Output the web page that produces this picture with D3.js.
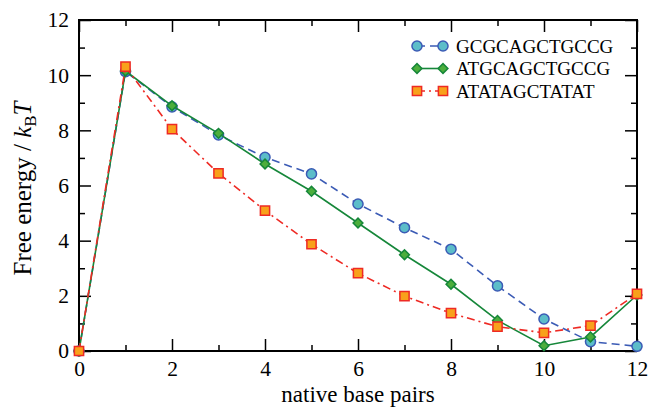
<!DOCTYPE html>
<html>
<head>
<meta charset="utf-8">
<script src="https://cdn.jsdelivr.net/npm/d3@7"></script>
</head>
<body style="margin:0;background:#fff">
<script>
// data
const basePairs = [0, 1, 2, 3, 4, 5, 6, 7, 8, 9, 10, 11, 12];
const gcgc = [0, 10.13, 8.85, 7.83, 7.02, 6.42, 5.33, 4.47, 3.69, 2.36, 1.16, 0.34, 0.17];
const atgc = [0, 10.15, 8.89, 7.89, 6.78, 5.79, 4.64, 3.49, 2.42, 1.11, 0.19, 0.51, 2.03];
const atat = [0, 10.31, 8.04, 6.44, 5.09, 3.87, 2.82, 1.99, 1.37, 0.88, 0.66, 0.92, 2.07];
const seriesNames = ['GCGCAGCTGCCG', 'ATGCAGCTGCCG', 'ATATAGCTATAT'];
const xMajor = [0, 2, 4, 6, 8, 10, 12];
const xMinor = [1, 3, 5, 7, 9, 11];
const yMajor = [0, 2, 4, 6, 8, 10, 12];
const yMinor = [1, 3, 5, 7, 9, 11];

const FONT = '"Liberation Serif", "Times New Roman", serif';
const W = 650, H = 407;
const margin = {top: 20, right: 13, bottom: 56, left: 79};
const w = W - margin.left - margin.right, h = H - margin.top - margin.bottom;

const svg = d3.select('body').append('svg').attr('width', W).attr('height', H);
const g = svg.append('g').attr('transform', `translate(${margin.left},${margin.top})`);

const x = d3.scaleLinear().domain([0, 12]).range([0, w]);
const y = d3.scaleLinear().domain([0, 12]).range([h, 0]);

// axes, ticks inward on all four sides
function styleAxis(sel) {
  sel.attr('font-family', FONT);
  sel.select('.domain').remove();
  sel.selectAll('.tick line').attr('stroke', '#000').attr('stroke-width', 1.5);
  sel.selectAll('.tick text').attr('fill', '#000')
    .style('font-family', FONT).style('font-size', '21.5px');
}
g.append('g').attr('transform', `translate(0,${h})`)
  .call(d3.axisBottom(x).tickValues(xMajor).tickSize(-12).tickPadding(10).tickFormat(d3.format('d'))).call(styleAxis);
g.append('g').attr('transform', `translate(0,${h})`)
  .call(d3.axisBottom(x).tickValues(xMinor).tickSize(-6).tickFormat('')).call(styleAxis);
g.append('g')
  .call(d3.axisTop(x).tickValues(xMajor).tickSize(-12).tickFormat('')).call(styleAxis);
g.append('g')
  .call(d3.axisTop(x).tickValues(xMinor).tickSize(-6).tickFormat('')).call(styleAxis);
g.append('g')
  .call(d3.axisLeft(y).tickValues(yMajor).tickSize(-12).tickPadding(10).tickFormat(d3.format('d'))).call(styleAxis);
g.append('g')
  .call(d3.axisLeft(y).tickValues(yMinor).tickSize(-6).tickFormat('')).call(styleAxis);
g.append('g').attr('transform', `translate(${w},0)`)
  .call(d3.axisRight(y).tickValues(yMajor).tickSize(-12).tickFormat('')).call(styleAxis);
g.append('g').attr('transform', `translate(${w},0)`)
  .call(d3.axisRight(y).tickValues(yMinor).tickSize(-6).tickFormat('')).call(styleAxis);

g.append('rect').attr('width', w).attr('height', h)
  .attr('fill', 'none').attr('stroke', '#000').attr('stroke-width', 2);

// series (diamond = square turned 45 degrees)
const series = [
  {name: seriesNames[0], values: gcgc, color: '#3b5bb5', dash: '8,5', shape: d3.symbolCircle, size: 80, rot: 0, fill: '#5cbdc9'},
  {name: seriesNames[1], values: atgc, color: '#16873a', dash: null, shape: d3.symbolSquare, size: 48, rot: 45, fill: '#4cae3c'},
  {name: seriesNames[2], values: atat, color: '#ee2a24', dash: '8,4,2,4', shape: d3.symbolSquare, size: 85, rot: 0, fill: '#f8a11b'}
];

const line = d3.line().x(d => x(d[0])).y(d => y(d[1]));

series.forEach(s => {
  const pts = basePairs.map((b, i) => [b, s.values[i]]);
  g.append('path').datum(pts).attr('d', line)
    .attr('fill', 'none').attr('stroke', s.color).attr('stroke-width', 1.6)
    .attr('stroke-dasharray', s.dash);
  g.selectAll(null).data(pts).enter().append('path')
    .attr('transform', d => `translate(${x(d[0])},${y(d[1])}) rotate(${s.rot})`)
    .attr('d', d3.symbol().type(s.shape).size(s.size))
    .attr('fill', s.fill).attr('stroke', s.color).attr('stroke-width', 1.5);
});

// legend
const legend = g.append('g').attr('transform', `translate(${417 - margin.left},${46 - margin.top})`);
series.forEach((s, i) => {
  const row = legend.append('g').attr('transform', `translate(0,${i * 22.5})`);
  row.append('line').attr('x1', 0).attr('x2', 26)
    .attr('stroke', s.color).attr('stroke-width', 1.6).attr('stroke-dasharray', s.dash);
  [0, 26].forEach(px => row.append('path')
    .attr('transform', `translate(${px},0) rotate(${s.rot})`)
    .attr('d', d3.symbol().type(s.shape).size(s.size))
    .attr('fill', s.fill).attr('stroke', s.color).attr('stroke-width', 1.5));
  row.append('text').attr('x', 39).attr('dy', '0.35em')
    .style('font-family', FONT).style('font-size', '19px').text(s.name);
});

// axis titles
svg.append('text').attr('x', margin.left + w / 2).attr('y', 401.5)
  .attr('text-anchor', 'middle').style('font-family', FONT).style('font-size', '23px')
  .text('native base pairs');

const yt = svg.append('text').attr('transform', `translate(31,${margin.top + h / 2 + 3}) rotate(-90)`)
  .attr('text-anchor', 'middle').style('font-family', FONT).style('font-size', '25px');
yt.append('tspan').text('Free energy / ');
yt.append('tspan').style('font-style', 'italic').text('k');
yt.append('tspan').attr('dy', 5).style('font-size', '17px').text('B');
yt.append('tspan').attr('dy', -5).style('font-style', 'italic').text('T');
</script>
</body>
</html>
